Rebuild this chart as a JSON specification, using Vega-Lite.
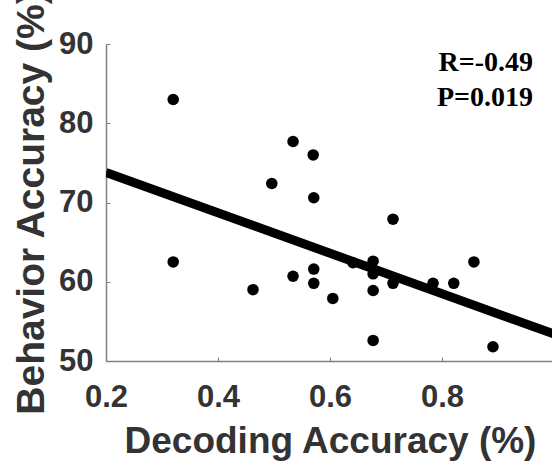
{
  "$schema": "https://vega.github.io/schema/vega-lite/v6.json",
  "autosize": {"type": "none"},
  "padding": {"left": 106, "top": 44, "right": 0, "bottom": 105},
  "width": 448,
  "height": 317,
  "background": "white",
  "config": {
    "view": {"stroke": null},
    "axis": {
      "labelFont": "Liberation Sans",
      "labelFontWeight": "bold",
      "labelFontSize": 31,
      "labelColor": "#333333",
      "labelFlush": false,
      "titleFont": "Liberation Sans",
      "titleFontWeight": "bold",
      "titleColor": "#333333",
      "domainColor": "#808080",
      "domainWidth": 1.5,
      "tickColor": "#808080",
      "tickSize": -4,
      "grid": false
    }
  },
  "datasets": {
    "points": [
      {"decoding": 0.32, "behavior": 83.0},
      {"decoding": 0.32, "behavior": 62.5},
      {"decoding": 0.4625, "behavior": 59.0},
      {"decoding": 0.496, "behavior": 72.4},
      {"decoding": 0.534, "behavior": 77.7},
      {"decoding": 0.534, "behavior": 60.7},
      {"decoding": 0.570, "behavior": 76.0},
      {"decoding": 0.571, "behavior": 70.6},
      {"decoding": 0.571, "behavior": 61.6},
      {"decoding": 0.571, "behavior": 59.8},
      {"decoding": 0.605, "behavior": 57.9},
      {"decoding": 0.641, "behavior": 62.4},
      {"decoding": 0.677, "behavior": 62.6},
      {"decoding": 0.677, "behavior": 61.0},
      {"decoding": 0.677, "behavior": 58.9},
      {"decoding": 0.677, "behavior": 52.6},
      {"decoding": 0.7125, "behavior": 67.9},
      {"decoding": 0.7125, "behavior": 59.8},
      {"decoding": 0.784, "behavior": 59.8},
      {"decoding": 0.821, "behavior": 59.8},
      {"decoding": 0.857, "behavior": 62.5},
      {"decoding": 0.891, "behavior": 51.8}
    ],
    "fit": [
      {"decoding": 0.2, "behavior": 73.8},
      {"decoding": 1.0, "behavior": 53.4}
    ],
    "stats": [
      {"decoding": 0.9625, "behavior": 86.6, "label": "R=-0.49"},
      {"decoding": 0.9625, "behavior": 82.2, "label": "P=0.019"}
    ]
  },
  "layer": [
    {
      "data": {"name": "fit"},
      "mark": {"type": "line", "color": "black", "strokeWidth": 9, "clip": true},
      "encoding": {
        "x": {
          "field": "decoding", "type": "quantitative",
          "scale": {"domain": [0.2, 1.0], "nice": false, "zero": false},
          "axis": {"values": [0.2, 0.4, 0.6, 0.8], "format": ".1f", "title": "Decoding Accuracy (%)", "titleFontSize": 37, "labelPadding": 25, "titlePadding": 11}
        },
        "y": {
          "field": "behavior", "type": "quantitative",
          "scale": {"domain": [50, 90], "nice": false, "zero": false},
          "axis": {"values": [50, 60, 70, 80, 90], "title": "Behavior Accuracy (%)", "titleFontSize": 39, "labelPadding": 17, "titlePadding": 7}
        }
      }
    },
    {
      "data": {"name": "points"},
      "mark": {"type": "circle", "color": "black", "opacity": 1, "size": 133},
      "encoding": {
        "x": {"field": "decoding", "type": "quantitative"},
        "y": {"field": "behavior", "type": "quantitative"}
      }
    },
    {
      "data": {"name": "stats"},
      "mark": {"type": "text", "align": "right", "baseline": "alphabetic", "font": "Liberation Serif", "fontWeight": "bold", "fontSize": 28, "color": "black"},
      "encoding": {
        "x": {"field": "decoding", "type": "quantitative"},
        "y": {"field": "behavior", "type": "quantitative"},
        "text": {"field": "label"}
      }
    }
  ]
}
